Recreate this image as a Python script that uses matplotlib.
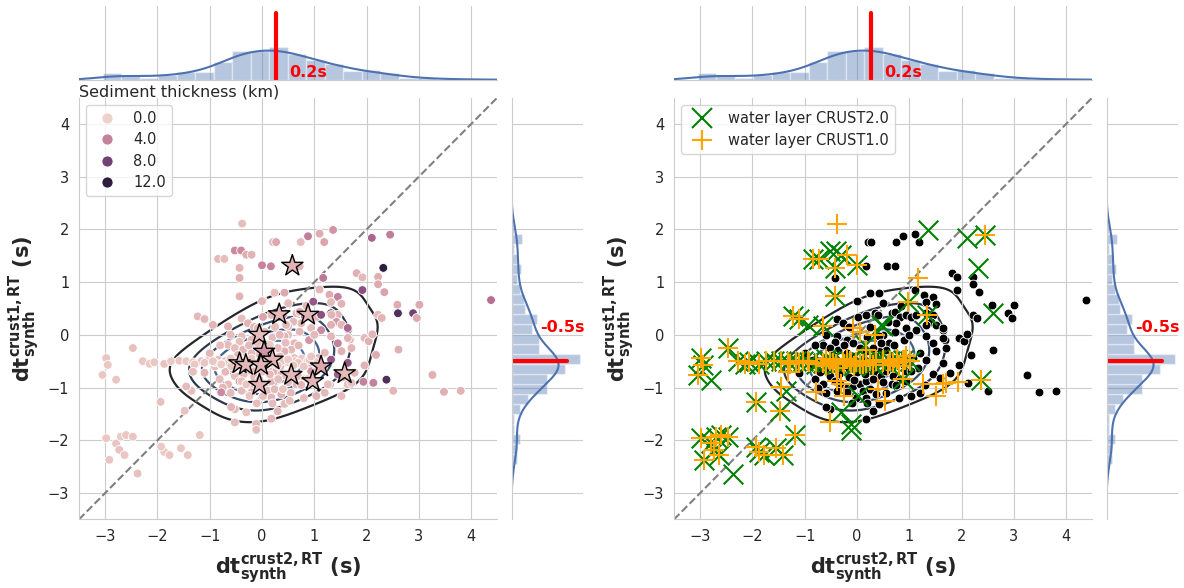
""" Travel time shifts: CRUST1.0 vs CRUST2.0 synthetic RT delays, coloured by
sediment thickness (left) and water layer flags (right). """

import numpy as np
import matplotlib
matplotlib.use('Agg')
import matplotlib.pyplot as plt
import seaborn as sns
from matplotlib.lines import Line2D

# ---- data ---------------------------------------------------------------
# stations without water layer: dt crust2 (x), dt crust1 (y), sediment (km)
land_x = [0.21, 0.27, 0.74, 0.88, 1.10, 1.19, 0.17, 0.58,
          0.72, -0.43, 0.02, 1.81, 1.92, 2.22, 2.22, 2.34,
          1.92, 2.59, 2.22, 2.29, 2.89, 2.96, 3.01, 4.38,
          1.65, 1.68, 1.96, 2.04, 2.11, 2.18, 2.61, 1.96,
          2.51, 3.26, 3.48, 3.80, 2.13, 0.00, 0.24, 0.43,
          1.10, 1.29, 1.45, 1.52, 1.32, -0.39, -0.27, 0.02,
          0.18, 0.34, 0.40, 0.66, 0.72, 0.82, 0.94, 1.04,
          1.13, 1.32, 1.45, 1.42, 0.75, 0.94, 1.13, 1.32,
          1.52, 1.64, 0.72, 0.50, 0.62, -0.39, -0.43, -0.20,
          -0.08, 0.43, 0.56, 0.43, 1.32, 1.45, 1.64, 1.71,
          1.52, 1.32, 1.64, 1.45, 1.58, 1.77, 1.20, 1.16,
          1.07, -0.84, -0.71, -0.62, -0.52, -0.43, -0.27, -0.17,
          -0.01, 0.08, 0.18, 0.27, 0.37, 0.46, 0.56, 0.69,
          0.82, 0.94, -1.10, -0.52, -0.43, -0.33, -0.20, -0.08,
          0.05, 0.18, 0.31, -0.39, -0.20, 0.11, 0.24, 0.37,
          -0.01, 0.18, 0.43, 1.04, -0.52, -0.59, 0.18, -0.65,
          -0.52, -0.36, -0.46, 0.05, 0.18, 0.34, 0.27, 0.43,
          0.75, 0.88, 0.94, 1.04, 0.62, 0.66, -0.81, -0.65,
          -0.75, 1.30, 1.20, -0.10, 0.10, 0.30, -0.30, 0.60,
          -0.90, -0.70, -0.55, -0.35, -0.15, 0.00, 0.15, 0.35,
          0.50, 0.75, -0.60, -0.10, 0.30, 0.55, 0.80, -1.00,
          -0.80, -0.25, 0.20, 0.70, 0.90, 1.00, 0.25, -0.15,
          -0.60, 0.60, 0.85, 0.50, -0.20, 0.45, -0.05, 0.20]
land_y = [1.76, 1.76, 1.76, 1.87, 1.92, 1.76, 1.30, 1.30,
          1.30, 1.08, 0.65, 1.17, 1.09, 1.10, 0.96, 0.81,
          0.85, 0.57, 0.38, 0.32, 0.41, 0.32, 0.57, 0.66,
          0.10, -0.09, -0.06, -0.12, 0.01, -0.38, -0.28, -0.58,
          -1.06, -0.76, -1.08, -1.06, -0.91, 0.64, 0.80, 0.80,
          0.86, 0.76, 0.72, 0.59, 0.62, 0.31, 0.22, 0.34,
          0.38, 0.41, 0.38, 0.41, 0.44, 0.34, 0.38, 0.34,
          0.38, 0.41, 0.38, 0.25, 0.22, 0.13, 0.09, 0.19,
          0.19, 0.13, 0.06, 0.00, -0.16, -0.03, -0.13, -0.09,
          -0.16, -0.03, -0.28, -0.31, -0.03, -0.16, -0.06, -0.25,
          -0.31, -0.47, -0.53, -0.75, -0.81, -0.72, -0.34, -0.63,
          -0.44, -0.47, -0.50, -0.53, -0.56, -0.50, -0.59, -0.63,
          -0.56, -0.59, -0.66, -0.69, -0.75, -0.78, -0.69, -0.78,
          -0.84, -0.88, -0.72, -0.78, -0.88, -0.94, -1.00, -0.97,
          -0.94, -0.88, -0.84, -1.06, -1.09, -1.06, -1.03, -1.13,
          -1.19, -1.19, -1.31, -1.16, -1.41, -1.37, -1.59, -0.19,
          -0.25, -0.28, -0.38, -0.25, -0.31, -0.41, -0.50, -0.53,
          -0.47, -0.56, -0.69, -0.69, -0.44, -0.94, -0.84, -0.94,
          -1.00, -0.95, -1.10, -0.40, -0.45, -0.25, -0.70, -0.60,
          -0.60, -0.70, -0.65, -0.75, -0.80, -0.70, -0.75, -0.60,
          -0.90, -0.95, -1.10, -1.30, -1.45, -1.10, -1.20, -0.35,
          -0.20, -0.20, -0.05, -0.20, -0.10, 0.00, 0.15, 0.15,
          0.00, 0.25, 0.55, 0.60, -0.35, -0.15, -0.85, -1.30]
land_sed = [1.2, 2.0, 1.0, 4.2, 1.8, 2.2, 3.8, 1.5,
            1.3, 1.6, 1.4, 1.6, 1.2, 1.7, 1.9, 2.2,
            7.0, 1.8, 1.2, 1.5, 8.0, 2.0, 1.9, 5.0,
            6.0, 1.4, 1.2, 1.6, 1.3, 1.8, 1.6, 1.5,
            1.4, 1.6, 1.7, 1.5, 4.0, 1.3, 1.1, 2.0,
            1.4, 1.8, 4.0, 1.5, 1.2, 1.0, 1.4, 2.2,
            1.3, 1.1, 3.0, 1.2, 1.6, 4.0, 1.4, 1.2,
            7.0, 12.0, 1.5, 2.8, 1.3, 1.1, 3.5, 1.6,
            1.4, 5.5, 1.2, 1.0, 1.3, 1.1, 0.8, 1.2,
            1.0, 1.5, 1.2, 1.7, 1.3, 4.0, 1.5, 1.4,
            1.6, 6.5, 6.5, 6.0, 1.4, 1.3, 1.2, 2.5,
            1.3, 1.0, 0.8, 1.2, 2.0, 1.1, 0.9, 1.3,
            1.0, 1.4, 1.1, 1.6, 1.2, 1.0, 1.5, 1.3,
            1.1, 1.8, 1.4, 1.0, 3.0, 1.2, 1.0, 1.3,
            1.1, 1.5, 1.0, 1.2, 1.4, 1.0, 1.2, 1.6,
            1.1, 1.3, 1.0, 1.5, 1.2, 1.4, 1.3, 1.1,
            1.0, 1.3, 1.2, 1.0, 3.5, 1.1, 1.3, 1.0,
            1.2, 1.4, 3.0, 1.2, 1.1, 1.3, 1.0, 1.2,
            1.4, 1.3, 1.2, 1.0, 1.2, 1.1, 1.3, 1.0,
            1.0, 1.2, 1.4, 1.1, 1.3, 1.0, 1.2, 1.5,
            1.1, 1.3, 1.2, 1.0, 1.4, 1.2, 1.1, 1.3,
            1.0, 1.2, 1.1, 1.4, 3.0, 1.2, 1.0, 1.3,
            1.1, 1.2, 1.5, 1.1, 1.2, 1.0, 1.3, 1.1]

# stations with a water layer: 'b' both models, 'g' CRUST2.0 only, 'o' CRUST1.0 only
water_x = [-0.38, -0.84, -0.72, -0.52, -0.40, -0.30, -0.20, -0.43,
           0.00, -0.43, -1.23, -1.10, -0.94, -0.65, 1.17, 1.36,
           2.10, 2.45, 2.32, 0.98, 1.33, 2.60, -0.08, 0.05,
           0.34, 0.50, -2.98, -2.95, -3.05, -2.79, -2.47, -2.28,
           -2.15, -2.06, -1.87, -1.74, -1.58, -1.45, -1.32, -1.16,
           -1.04, -0.91, -0.78, -0.65, -0.52, -0.40, -0.27, -0.14,
           -0.01, 0.12, 0.24, 0.37, 0.50, 0.63, 0.76, 0.88,
           1.01, -1.29, -1.10, -0.94, -0.78, -0.59, -0.46, -0.36,
           -0.24, -0.11, 0.05, 0.18, 0.37, 0.50, 0.69, 0.91,
           0.94, 0.18, 0.15, 0.46, -0.39, -0.30, -0.78, -0.24,
           0.02, 0.40, 0.53, 0.88, 1.26, 1.64, 1.71, 1.52,
           -0.52, -0.30, -0.11, -1.35, -1.32, -1.45, -0.11, 1.94,
           2.38, -1.94, -1.48, -1.19, -2.98, -2.79, -2.70, -2.60,
           -2.47, -2.73, -2.63, -2.92, -2.38, -1.87, -1.77, -1.55,
           -1.42, -1.93, -0.20, 0.30, -0.60, 0.60, -0.05, 0.80]
water_y = [2.11, 1.44, 1.44, 1.60, 1.60, 1.52, 1.52, 1.27,
           1.32, 0.73, 0.35, 0.30, 0.19, 0.16, 1.08, 1.99,
           1.84, 1.90, 1.27, 0.63, 0.38, 0.41, 0.13, 0.06,
           0.00, 0.16, -0.44, -0.57, -0.76, -0.85, -0.25, -0.50,
           -0.55, -0.52, -0.55, -0.50, -0.49, -0.50, -0.52, -0.50,
           -0.50, -0.52, -0.55, -0.53, -0.50, -0.55, -0.52, -0.50,
           -0.52, -0.55, -0.50, -0.48, -0.52, -0.50, -0.45, -0.48,
           -0.50, -0.56, -0.53, -0.50, -0.56, -0.59, -0.53, -0.63,
           -0.56, -0.53, -0.56, -0.53, -0.50, -0.47, -0.53, -0.47,
           -0.41, -0.28, -0.19, 0.19, -0.88, -0.94, -1.09, -1.16,
           -1.16, -1.03, -1.25, -0.84, -0.94, -0.94, -0.91, -1.16,
           -1.66, -1.47, -1.69, -1.06, -0.70, -0.98, -1.80, -0.89,
           -0.85, -1.27, -1.44, -1.90, -1.96, -2.06, -1.93, -1.90,
           -1.93, -2.18, -2.28, -2.37, -2.63, -2.22, -2.28, -2.15,
           -2.28, -2.12, -0.45, -0.58, -0.45, -0.58, -0.60, -0.60]
water_kind = list('obbgggob' 'bbbbgbog' 'gbgbbgoo' 'ogbbbgbb'
                  'bbbbbbbb' 'bbbbbbbb' 'bbbbbbbb' 'booooooo'
                  'oooooooo' 'oogg' 'oooo' 'gooboooo' 'oggg' 'oogo'
                  'bbbbbbbb' 'bbbbgbbb' 'bbobbob' 'o')
water_sed = [1.0, 1.2, 1.0, 3.5, 3.5, 1.8, 1.5, 1.4,
             3.8, 1.5, 1.2, 1.3, 1.4, 1.3, 4.5, 3.0,
             5.5, 4.2, 12.0, 6.5, 1.4, 9.5, 1.2, 1.0,
             1.3, 1.1, 0.6, 0.5, 0.5, 0.6, 0.8, 0.5,
             0.4, 0.5, 0.7, 0.4, 0.6, 0.4, 0.5, 0.8,
             0.6, 0.5, 0.4, 0.6, 0.5, 0.7, 0.4, 0.6,
             0.5, 0.8, 0.6, 0.4, 0.5, 0.7, 0.5, 0.6,
             0.4, 0.5, 0.6, 0.5, 0.4, 0.6, 0.5, 0.7,
             0.5, 0.4, 0.6, 0.5, 0.7, 0.4, 0.6, 0.5,
             0.6, 0.5, 0.4, 1.2, 0.8, 0.6, 3.5, 0.7,
             0.8, 0.6, 0.9, 0.7, 1.0, 0.8, 0.9, 1.1,
             1.0, 0.8, 1.2, 1.0, 0.9, 1.1, 1.0, 4.0,
             9.5, 0.8, 0.7, 0.6, 0.5, 0.6, 0.4, 0.5,
             0.6, 0.7, 0.5, 0.6, 0.8, 0.5, 0.6, 0.5,
             0.6, 0.4, 0.5, 0.6, 0.5, 0.7, 0.5, 0.6]

# highlighted stations (stars, left panel)
star_x = [0.58, 0.33, 0.88, -0.05, 0.04, 0.20, -0.43,
          -0.31, -0.02, 1.13, 0.56, 0.97, 1.58, -0.05]
star_y = [1.31, 0.39, 0.38, 0.00, -0.32, -0.47, -0.54,
          -0.57, -0.57, -0.60, -0.76, -0.88, -0.73, -0.95]
star_sed = [1.5, 1.2, 1.3, 1.0, 3.0, 1.4, 1.1,
            1.2, 1.3, 2.0, 1.2, 1.4, 1.1, 1.3]

shift_x, shift_x_label = 0.27, '0.2s'
shift_y, shift_y_label = -0.5, '-0.5s'
sed_ticks = [0.0, 4.0, 8.0, 12.0]
sed_max = 11.0
lims = (-3.5, 4.5)

# ---- plotting -------------------------------------------------------------
sns.set_style('whitegrid')
plt.rcParams['font.family'] = ['DejaVu Sans']
C0 = '#4c72b0'
cmap = sns.cubehelix_palette(as_cmap=True)
contour_cmap = sns.dark_palette(C0, as_cmap=True)

all_x = np.array(land_x + water_x)
all_y = np.array(land_y + water_y)
water_x = np.array(water_x)
water_y = np.array(water_y)
kind = np.array(water_kind)

fig = plt.figure(figsize=(11.84, 5.88), dpi=100)
W, H = 1184., 588.


def make_axes(px):
    main = fig.add_axes([px / W, 68.6 / H, 418.3 / W, 421.8 / H])
    top = fig.add_axes([px / W, (H - 80) / H, 418.3 / W, 74 / H],
                       sharex=main)
    side = fig.add_axes([(px + 432.5) / W, 68.6 / H, 71 / W, 421.8 / H],
                        sharey=main)
    return main, top, side


def decorate(main, top, side):
    # density contours, 1:1 line
    sns.kdeplot(x=all_x, y=all_y, ax=main, bw_adjust=1.1,
                levels=[0.34, 0.48, 0.6, 0.72, 0.84],
                cmap=contour_cmap, linewidths=1.6, zorder=0)
    main.plot(lims, lims, ls='--', c='gray', lw=1.5, zorder=1)
    main.set_xlim(lims)
    main.set_ylim(lims)
    main.set_xticks(range(-3, 5))
    main.set_yticks(range(-3, 5))
    main.tick_params(labelsize=10.5)
    main.set_xlabel(r'$\mathbf{dt_{synth}^{crust2,RT}}$ (s)',
                    fontsize=15, fontweight='bold')
    main.set_ylabel(r'$\mathbf{dt_{synth}^{crust1,RT}}$ (s)',
                    fontsize=15, fontweight='bold')
    sns.despine(ax=main)

    # marginal histograms
    nbx, nby = 21, 25
    top.hist(all_x, bins=nbx, density=True, color=C0, alpha=0.4,
             edgecolor='white')
    sns.kdeplot(x=all_x, ax=top, color=C0, lw=1.5)
    hx, _ = np.histogram(all_x, bins=nbx, density=True)
    top.set_ylim(0, hx.max() / 0.45)
    top.axvline(shift_x, ymax=0.9, color='red', lw=3)
    top.text(shift_x + 0.25, 0.0, shift_x_label, color='red',
             fontweight='bold', fontsize=11.5, va='bottom',
             transform=top.get_xaxis_transform())
    top.set_yticks([])
    top.tick_params(labelbottom=False, length=0)
    top.set_xlabel('')
    top.set_ylabel('')
    sns.despine(ax=top, left=True)

    side.hist(all_y, bins=nby, density=True, color=C0, alpha=0.4,
              edgecolor='white', orientation='horizontal')
    sns.kdeplot(y=all_y, ax=side, color=C0, lw=1.5)
    hy, _ = np.histogram(all_y, bins=nby, density=True)
    side.set_xlim(0, hy.max() * 1.04)
    side.axhline(shift_y, xmax=0.78, color='red', lw=3)
    side.text(0.4, shift_y + 0.5, shift_y_label, color='red',
              fontweight='bold', fontsize=11.5, va='bottom',
              transform=side.get_yaxis_transform())
    side.set_xticks([])
    side.tick_params(labelleft=False, length=0)
    side.set_xlabel('')
    side.set_ylabel('')
    sns.despine(ax=side, bottom=True)


# left panel: sediment thickness
ax1, top1, side1 = make_axes(79)
decorate(ax1, top1, side1)
ax1.scatter(land_x + list(water_x), land_y + list(water_y),
            c=land_sed + water_sed, cmap=cmap, vmin=0, vmax=sed_max,
            s=40, edgecolor='white', linewidth=0.6, zorder=3)
ax1.scatter(star_x, star_y, c=star_sed, cmap=cmap, vmin=0, vmax=sed_max,
            marker='*', s=260, edgecolor='black', linewidth=1.0, zorder=4)
handles = [Line2D([], [], ls='', marker='o', ms=8,
                  mfc=cmap(min(v / sed_max, 1.0)), mec='white', mew=0.6)
           for v in sed_ticks]
ax1.legend(handles, ['%.1f' % v for v in sed_ticks], loc='upper left',
           fontsize=10.5, handletextpad=0.8, labelspacing=0.45)
ax1.text(0, 0.996, 'Sediment thickness (km)', transform=ax1.transAxes,
         fontsize=11.5, va='bottom', ha='left', color='#262626')

# right panel: water layer flags
ax2, top2, side2 = make_axes(674)
decorate(ax2, top2, side2)
ax2.scatter(land_x, land_y, c='black', s=40, edgecolor='white',
            linewidth=0.6, zorder=3)
g = np.isin(kind, ['b', 'g'])
o = np.isin(kind, ['b', 'o'])
ax2.scatter(water_x[g], water_y[g], marker='x', c='green', s=200,
            linewidth=1.5, zorder=4)
ax2.scatter(water_x[o], water_y[o], marker='+', c='orange', s=220,
            linewidth=1.5, zorder=5)
handles = [Line2D([], [], ls='', marker='x', ms=14, mew=1.5, c='green'),
           Line2D([], [], ls='', marker='+', ms=15, mew=1.5, c='orange')]
ax2.legend(handles, ['water layer CRUST2.0', 'water layer CRUST1.0'],
           loc='upper left', fontsize=10.5, handletextpad=0.8)

fig.savefig('out.png', dpi=100)
